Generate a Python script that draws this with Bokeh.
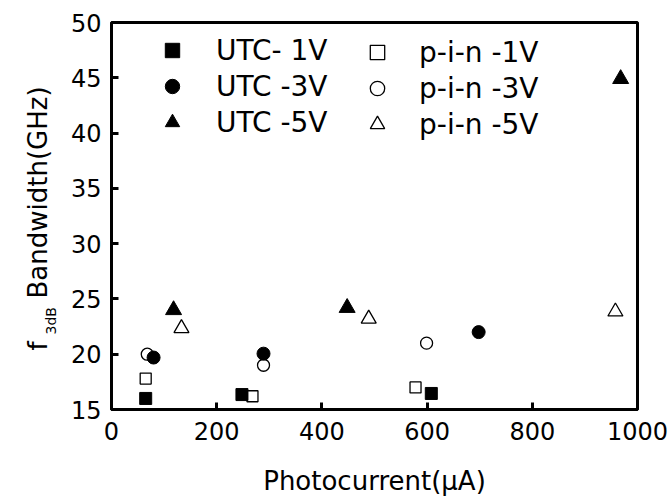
from bokeh.plotting import figure
from bokeh.layouts import row
from bokeh.models import Legend, LegendItem, Label, Range1d, FixedTicker
from bokeh.embed import file_html
from bokeh.resources import INLINE

# data (photocurrent in uA, bandwidth in GHz)
utc1_x = [65, 248, 608]
utc1_y = [16.0, 16.35, 16.45]
pin1_x = [65, 268, 578]
pin1_y = [17.8, 16.2, 17.0]
utc3_x = [80, 289, 698]
utc3_y = [19.7, 20.05, 22.0]
pin3_x = [68, 289, 599]
pin3_y = [20.0, 19.0, 21.0]
utc5_x = [118, 448, 968]
utc5_y = [24.0, 24.2, 44.9]
pin5_x = [133, 489, 958]
pin5_y = [22.35, 23.2, 23.85]

x_ticks = [0, 200, 400, 600, 800, 1000]
y_ticks = [15, 20, 25, 30, 35, 40, 45, 50]

FONT = "DejaVu Sans"
TOTAL_W, TOTAL_H = 672, 499
LEFT_W = 62
TOP, BOTTOM = 22, 90
FRAME_BOTTOM = TOTAL_H - BOTTOM  # canvas y of the frame's bottom edge

# ---- narrow panel holding the rotated y-axis title (with subscript) ----
lp = figure(width=LEFT_W, height=TOTAL_H, output_backend="svg", toolbar_location=None,
            x_range=Range1d(0, LEFT_W), y_range=Range1d(0, 1),
            x_axis_location=None, y_axis_location=None,
            min_border_left=0, min_border_right=0,
            min_border_top=TOP, min_border_bottom=BOTTOM)
lp.outline_line_color = None
lp.xgrid.visible = False
lp.ygrid.visible = False
lp.background_fill_color = "white"
lp.border_fill_color = "white"

lab_kw = dict(x_units="screen", y_units="screen", angle=90, angle_units="deg",
              text_font=FONT, text_color="black", text_align="left",
              text_baseline="alphabetic")
lp.add_layout(Label(x=37, y=FRAME_BOTTOM - 350, text="f", text_font_size="26px", **lab_kw))
lp.add_layout(Label(x=50, y=FRAME_BOTTOM - 334, text="3dB", text_font_size="14px", **lab_kw))
lp.add_layout(Label(x=37, y=FRAME_BOTTOM - 298, text="Bandwidth(GHz)",
                    text_font_size="26px", **lab_kw))

# ---- main chart ----
p = figure(width=TOTAL_W - LEFT_W, height=TOTAL_H, output_backend="svg", toolbar_location=None,
           x_range=Range1d(0, 1000), y_range=Range1d(15, 50),
           min_border_left=111 - LEFT_W, min_border_right=35, min_border_top=TOP,
           min_border_bottom=BOTTOM)
p.background_fill_color = "white"
p.border_fill_color = "white"
p.outline_line_color = "black"
p.outline_line_width = 3
p.xgrid.visible = False
p.ygrid.visible = False

for ax in (p.xaxis[0], p.yaxis[0]):
    ax.axis_line_width = 3
    ax.axis_line_color = "black"
    ax.major_tick_in = 7
    ax.major_tick_out = 0
    ax.major_tick_line_width = 3
    ax.minor_tick_line_color = None
    ax.major_label_text_font = FONT
    ax.major_label_text_font_size = "24px"
    ax.major_label_text_color = "black"

p.xaxis.ticker = FixedTicker(ticks=x_ticks)
p.yaxis.ticker = FixedTicker(ticks=y_ticks)
p.xaxis.major_label_standoff = 12
p.yaxis.major_label_standoff = 10
p.xaxis.axis_label = "Photocurrent(\u03bcA)"
p.xaxis.axis_label_text_font = FONT
p.xaxis.axis_label_text_font_size = "26px"
p.xaxis.axis_label_text_font_style = "normal"
p.xaxis.axis_label_text_color = "black"
p.xaxis.axis_label_standoff = 23

r_u1 = p.scatter(utc1_x, utc1_y, marker="square", size=12, color="black")
r_u3 = p.scatter(utc3_x, utc3_y, marker="circle", size=13, color="black")
r_u5 = p.scatter(utc5_x, utc5_y, marker="triangle", size=16, color="black")
r_p1 = p.scatter(pin1_x, pin1_y, marker="square", size=11, fill_color=None,
                 line_color="black", line_width=1.3)
r_p3 = p.scatter(pin3_x, pin3_y, marker="circle", size=12, fill_color=None,
                 line_color="black", line_width=1.3)
r_p5 = p.scatter(pin5_x, pin5_y, marker="triangle", size=15, fill_color=None,
                 line_color="black", line_width=1.3)

def make_legend(items, loc, gw, gh, sp):
    lg = Legend(items=items, location=loc, glyph_width=gw, glyph_height=gh,
                spacing=sp, padding=0, margin=0, label_standoff=24,
                border_line_color=None, background_fill_alpha=0,
                label_text_font=FONT, label_text_font_size="28px",
                label_text_line_height=1.0, label_height=20,
                label_text_color="black")
    p.add_layout(lg, "center")

make_legend([LegendItem(label="UTC- 1V", renderers=[r_u1]),
             LegendItem(label="UTC -3V", renderers=[r_u3]),
             LegendItem(label="UTC -5V", renderers=[r_u5])],
            (41, 269), 40, 36, -2)
make_legend([LegendItem(label="p-i-n -1V", renderers=[r_p1]),
             LegendItem(label="p-i-n -3V", renderers=[r_p3]),
             LegendItem(label="p-i-n -5V", renderers=[r_p5])],
            (248, 267), 36, 36, 0)

layout = row(lp, p, spacing=0)
open("out.html", "w").write(file_html(layout, INLINE))
